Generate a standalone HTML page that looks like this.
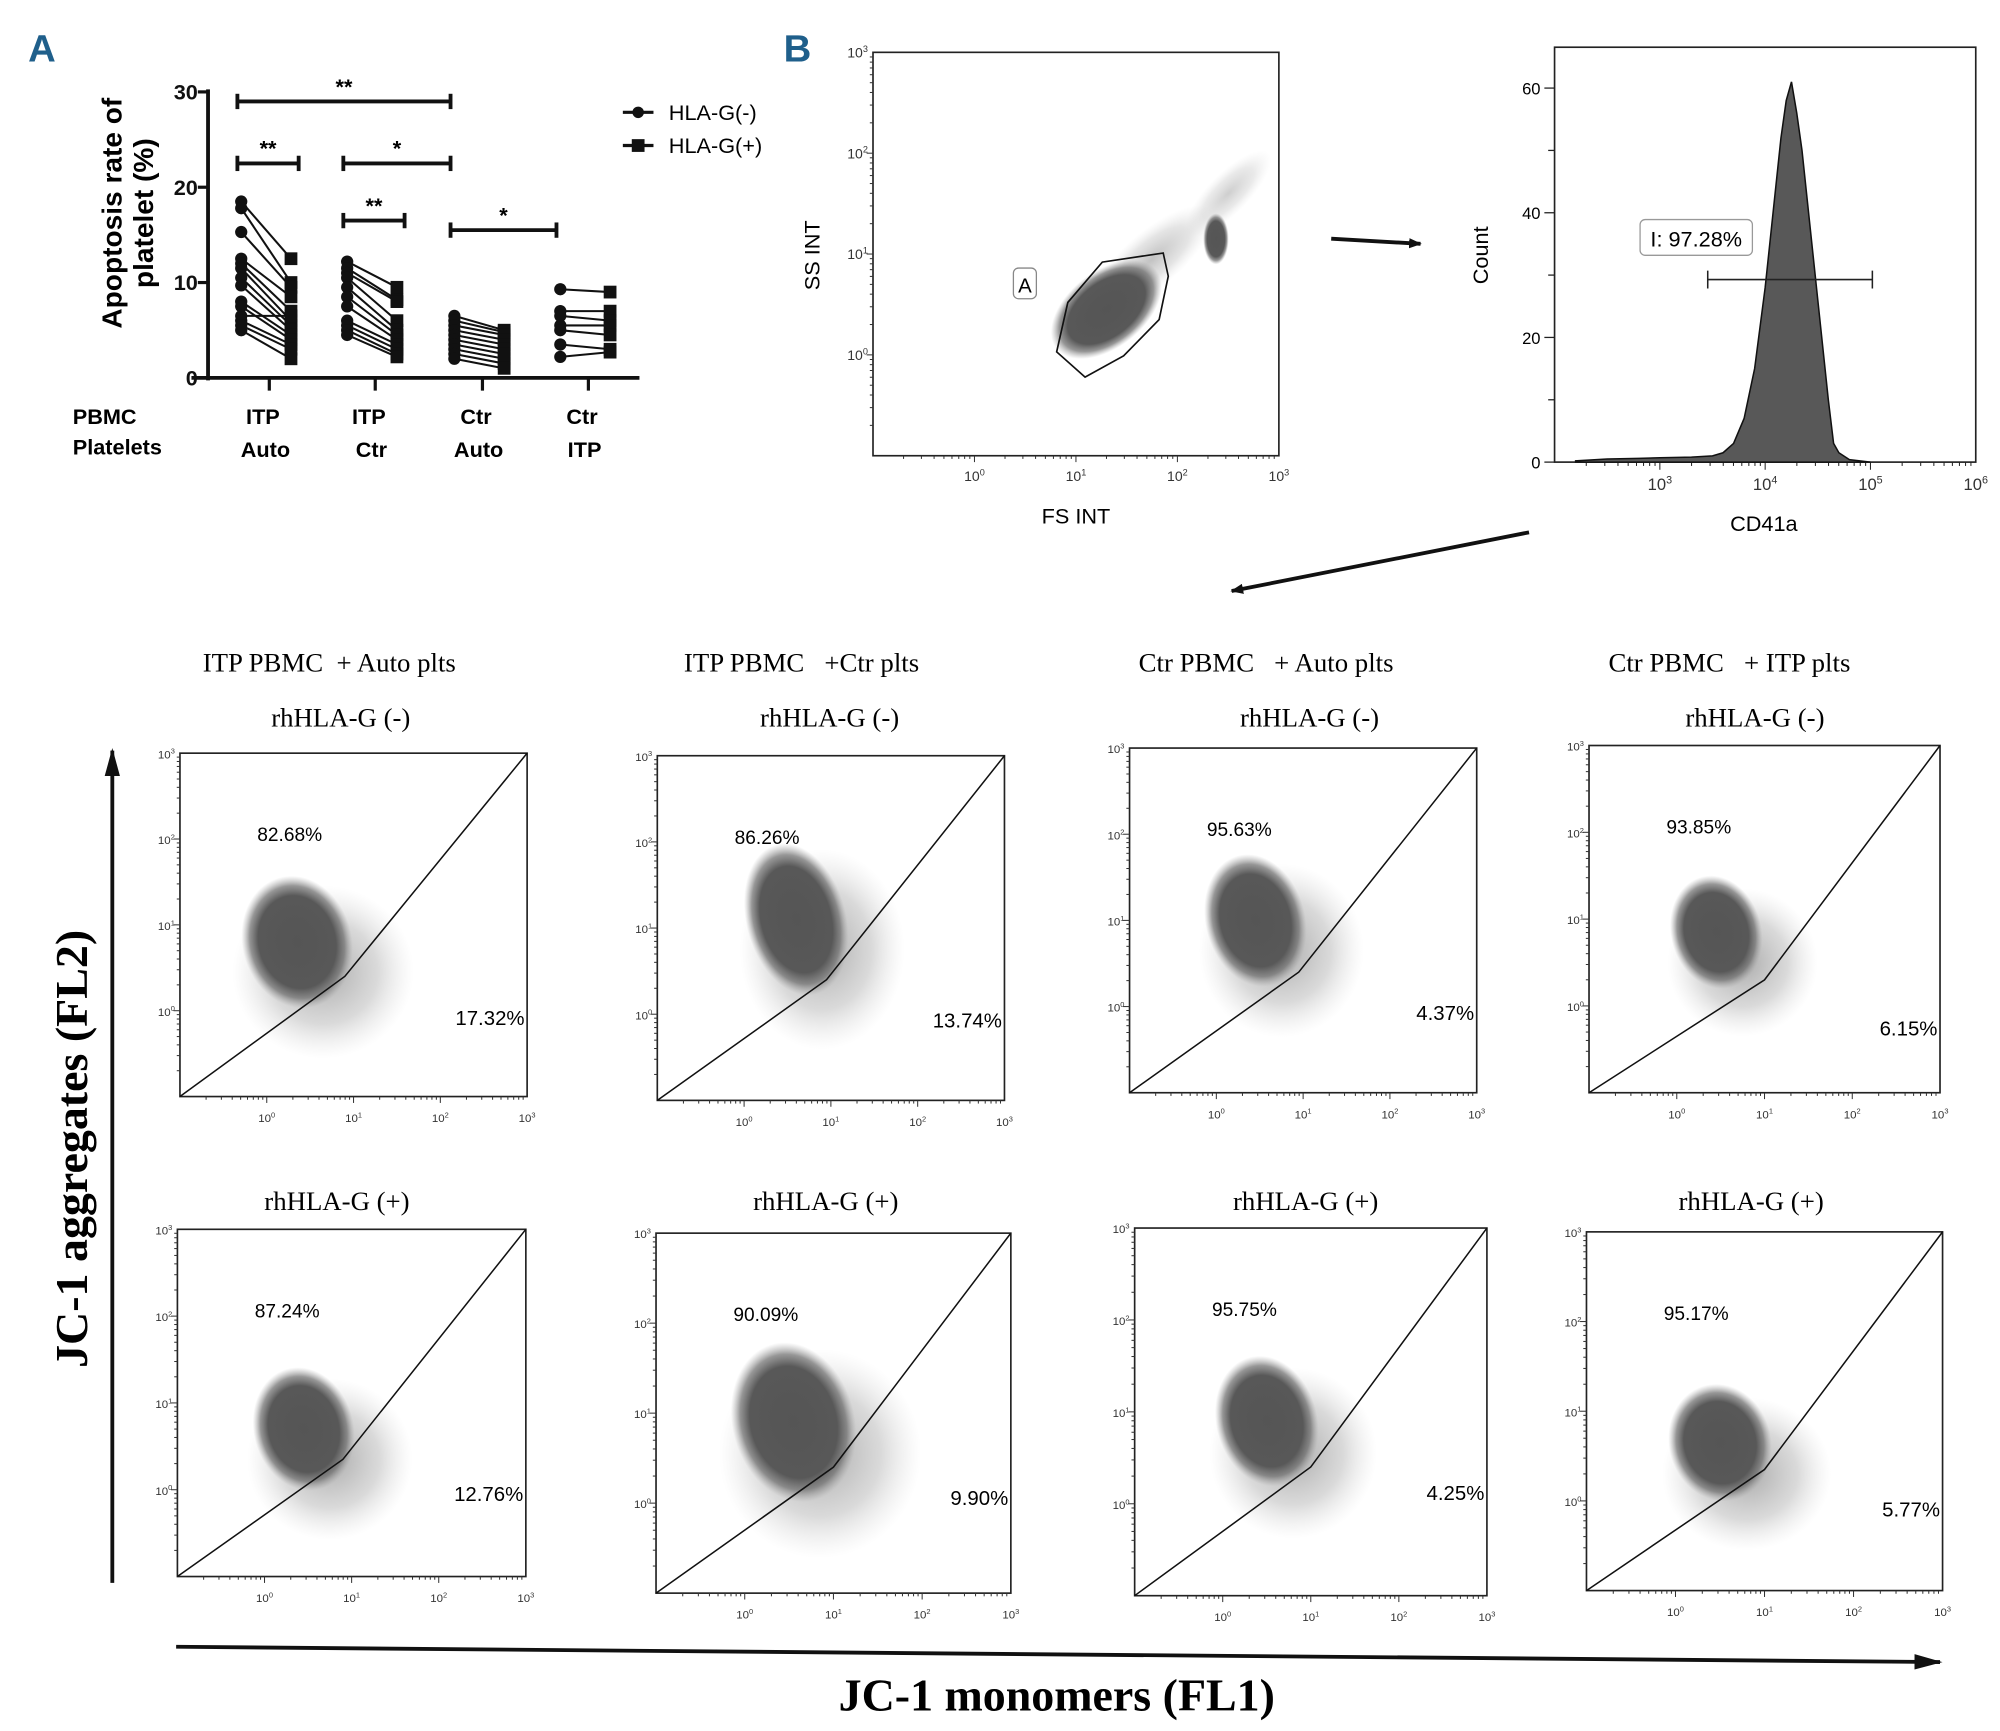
<!DOCTYPE html>
<html><head><meta charset="utf-8">
<style>
html,body{margin:0;padding:0;background:#fff;}
svg{display:block;}
.sans{font-family:"Liberation Sans",sans-serif;}
.serif{font-family:"Liberation Serif",serif;}
</style></head>
<body>
<svg id="fig" width="2000" height="1731" viewBox="0 0 1567 1356" preserveAspectRatio="none" xmlns="http://www.w3.org/2000/svg">
<defs>
<radialGradient id="cloud" cx="50%" cy="50%" r="50%">
<stop offset="0%" stop-color="#555" stop-opacity="1"/>
<stop offset="70%" stop-color="#585858" stop-opacity="1"/>
<stop offset="85%" stop-color="#6a6a6a" stop-opacity="0.7"/>
<stop offset="100%" stop-color="#999" stop-opacity="0"/>
</radialGradient>
<radialGradient id="halo" cx="50%" cy="50%" r="50%">
<stop offset="0%" stop-color="#666" stop-opacity="0.8"/>
<stop offset="60%" stop-color="#888" stop-opacity="0.45"/>
<stop offset="100%" stop-color="#bbb" stop-opacity="0"/>
</radialGradient>
<marker id="ah" markerWidth="10" markerHeight="8" refX="9" refY="4" orient="auto" markerUnits="userSpaceOnUse"><path d="M0,0 L10,4 L0,8 z" fill="#111"/></marker>
<marker id="ah2" markerWidth="22" markerHeight="12" refX="20" refY="6" orient="auto" markerUnits="userSpaceOnUse"><path d="M0,0 L22,6 L0,12 z" fill="#111"/></marker>
</defs>
<g id="root"></g>
</svg>
<script>
// ---------- Panel A data ----------
const groupLabels1 = ["ITP","ITP","Ctr","Ctr"];
const groupLabels2 = ["Auto","Ctr","Auto","ITP"];
const yTicksA = [0,10,20,30];
const itpAutoNeg = [18.5,17.8,15.3,12.5,12,11.5,10.5,9.7,8,7.5,6.5,6,5.5,5];
const itpAutoPos = [12.5,10,9.5,8.5,7,6,5.5,5,4.5,4,6.5,3.5,3,2];
const itpCtrNeg = [12.2,11.5,11,10.5,9.5,8.5,7.5,6,5.5,5,4.5];
const itpCtrPos = [9.5,8.2,8,6,5,4.5,4,3.5,3,2.5,2.2];
const ctrAutoNeg = [6.5,6,5.5,5,4.5,4,3.5,3,2.5,2];
const ctrAutoPos = [5,4.8,4.5,4,3.5,3,2.5,2,1.5,1];
const ctrItpNeg = [9.3,7,6.5,5.5,5,3.5,2.2];
const ctrItpPos = [9,7,6,5.5,4.5,3,2.7];
const sigLabels = ["**","**","*","**","*"];
const sigLevels = [29,22.5,22.5,16.5,15.5];
const sigFrom = [0,0,1,1,2];
const sigTo = [2,0.5,2,1.5,3];

// ---------- Histogram data ----------
const histLog = [2.2,2.5,2.8,3.0,3.3,3.5,3.6,3.7,3.8,3.9,4.0,4.1,4.15,4.2,4.25,4.3,4.35,4.4,4.5,4.6,4.65,4.7,4.8,5.0];
const histCount = [0.2,0.5,0.6,0.7,0.8,1,1.5,3,7,15,28,44,52,58,61,56,50,42,26,10,3,1.5,0.4,0];
const histYTicks = [0,20,40,60];
const histXTicks = [3,4,5,6];

// ---------- Scatter data ----------
const plotTitles = ["ITP PBMC\u00a0\u00a0+ Auto plts","ITP PBMC\u00a0\u00a0\u00a0+Ctr plts","Ctr PBMC\u00a0\u00a0\u00a0+ Auto plts","Ctr PBMC\u00a0\u00a0\u00a0+ ITP plts"];
const upperPct = ["82.68%","86.26%","95.63%","93.85%","87.24%","90.09%","95.75%","95.17%"];
const lowerPct = ["17.32%","13.74%","4.37%","6.15%","12.76%","9.90%","4.25%","5.77%"];
const cloudCx = [0.35,0.6,0.45,0.45,0.45,0.55,0.5,0.5];
const cloudCy = [0.8,1.1,1.0,0.85,0.7,0.9,0.9,0.65];
const cloudSx = [0.55,0.5,0.5,0.45,0.5,0.6,0.5,0.5];
const cloudSy = [0.65,0.75,0.65,0.55,0.6,0.75,0.6,0.55];
const gateKx = [0.9,0.95,0.95,1.0,0.9,1.0,1.0,1.0];
const gateKy = [0.4,0.4,0.4,0.3,0.35,0.4,0.4,0.35];
const decadeTicks = [0,1,2,3];

const SVGNS="http://www.w3.org/2000/svg";
const root=document.getElementById('root');
function mk(tag,attrs,parent){const e=document.createElementNS(SVGNS,tag);for(const k in attrs)e.setAttribute(k,attrs[k]);(parent||root).appendChild(e);return e;}
function txt(s,attrs,parent){const e=mk('text',attrs,parent);e.textContent=s;return e;}
function sup(base,exp,x,y,size,parent,anchor){const t=mk('text',{x:x,y:y,'font-size':size,'text-anchor':anchor||'middle',fill:'#333',class:'sans'},parent);t.appendChild(document.createTextNode(base));const s=document.createElementNS(SVGNS,'tspan');s.setAttribute('font-size',size*0.65);s.setAttribute('dy',-size*0.4);s.textContent=exp;t.appendChild(s);return t;}

let e=txt('A',{x:22,y:48,'font-size':30,'font-weight':'bold',fill:'#1f5f8b',class:'sans'});

e=txt('B',{x:614,y:48,'font-size':30,'font-weight':'bold',fill:'#1f5f8b',class:'sans'});


// ---------- Panel A ----------
const gA=mk('g',{});

const yA=v=>296-v*(224/30);
const gx=[211,294,378,461];
const negX=i=>gx[i]-22, posX=i=>gx[i]+17;
mk('line',{x1:163,y1:yA(30)-2,x2:163,y2:yA(0)+2,stroke:'#111','stroke-width':3},gA);
mk('line',{x1:150,y1:yA(0),x2:501,y2:yA(0),stroke:'#111','stroke-width':3},gA);
yTicksA.forEach(v=>{mk('line',{x1:155,y1:yA(v),x2:163,y2:yA(v),stroke:'#111','stroke-width':2.5},gA);
 const t=txt(String(v),{x:155,y:yA(v)+6,'font-size':17,'font-weight':'bold','text-anchor':'end',class:'sans',fill:'#111'},gA);
 });
gx.forEach((x,i)=>{mk('line',{x1:x,y1:yA(0),x2:x,y2:yA(0)+10,stroke:'#111','stroke-width':2.5},gA);
 let t=txt(groupLabels1[i],{x:x-5,y:332,'font-size':17,'font-weight':'bold','text-anchor':'middle',class:'sans'},gA);
 
 t=txt(groupLabels2[i],{x:x-3,y:358,'font-size':17,'font-weight':'bold','text-anchor':'middle',class:'sans'},gA);
 });
txt('PBMC',{x:57,y:332,'font-size':17,'font-weight':'bold',class:'sans'},gA);
txt('Platelets',{x:57,y:356,'font-size':17,'font-weight':'bold',class:'sans'},gA);
let yt=txt('Apoptosis rate of',{x:0,y:0,'font-size':22,'font-weight':'bold','text-anchor':'middle',class:'sans',transform:'translate(95,167) rotate(-90)'},gA);

txt('platelet (%)',{x:0,y:0,'font-size':22,'font-weight':'bold','text-anchor':'middle',class:'sans',transform:'translate(120,167) rotate(-90)'},gA);
const pairs=[[itpAutoNeg,itpAutoPos],[itpCtrNeg,itpCtrPos],[ctrAutoNeg,ctrAutoPos],[ctrItpNeg,ctrItpPos]];
pairs.forEach((p,i)=>{
 const n=Math.min(p[0].length,p[1].length);
 for(let k=0;k<n;k++){const l=mk('line',{x1:negX(i),y1:yA(p[0][k]),x2:posX(i),y2:yA(p[1][k]),stroke:'#111','stroke-width':1.6},gA);
  }
 p[0].forEach(v=>{const c=mk('circle',{cx:negX(i),cy:yA(v),r:4.8,fill:'#111'},gA);});
 p[1].forEach(v=>{const r=mk('rect',{x:posX(i)-5,y:yA(v)-5,width:10,height:10,fill:'#111'},gA);});
});
const sigX=f=>{const i=Math.floor(f);return (f-i)>0?posX(i)+6:negX(i)-3;};
sigLabels.forEach((s,i)=>{const x1=sigX(sigFrom[i]),x2=sigX(sigTo[i]);const y=yA(sigLevels[i]);
 const g=mk('g',{},gA);
 mk('line',{x1:x1,y1:y,x2:x2,y2:y,stroke:'#111','stroke-width':3},g);
 mk('line',{x1:x1,y1:y-6,x2:x1,y2:y+6,stroke:'#111','stroke-width':3},g);
 mk('line',{x1:x2,y1:y-6,x2:x2,y2:y+6,stroke:'#111','stroke-width':3},g);
 txt(s,{x:(x1+x2)/2,y:y-6,'font-size':17,'font-weight':'bold','text-anchor':'middle',class:'sans'},g);});
const lg=mk('g',{},gA);
mk('line',{x1:488,y1:88,x2:512,y2:88,stroke:'#111','stroke-width':2.5},lg);mk('circle',{cx:500,cy:88,r:4.5,fill:'#111'},lg);
txt('HLA-G(-)',{x:524,y:94,'font-size':17,class:'sans'},lg);
mk('line',{x1:488,y1:114,x2:512,y2:114,stroke:'#111','stroke-width':2.5},lg);mk('rect',{x:495,y:109,width:10,height:10,fill:'#111'},lg);
txt('HLA-G(+)',{x:524,y:120,'font-size':17,class:'sans'},lg);

function logFrame(g,x0,y0,x1,y1,fs){
 mk('rect',{x:x0,y:y0,width:x1-x0,height:y1-y0,fill:'none',stroke:'#222','stroke-width':1.3},g);
 const sx=v=>x0+(v+1)/4*(x1-x0), sy=v=>y1-(v+1)/4*(y1-y0);
 for(let d=-1;d<3;d++)for(let m=1;m<10;m++){const v=d+Math.log10(m);if(v<=-0.98)continue;const L=m==1?5:2.5;
  mk('line',{x1:sx(v),y1:y1,x2:sx(v),y2:y1+L,stroke:'#333','stroke-width':0.8},g);
  mk('line',{x1:x0,y1:sy(v),x2:x0-L,y2:sy(v),stroke:'#333','stroke-width':0.8},g);}
 decadeTicks.forEach(d=>{sup('10',String(d),sx(d),y1+20,fs,g);sup('10',String(d),x0-4,sy(d)+4,fs,g,'end');});
 return [sx,sy];
}

// ---------- FS/SS ----------
const gB1=mk('g',{});
const [fx,fy]=logFrame(gB1,684,41,1002,357,11);
mk('ellipse',{cx:fx(1.75),cy:fy(0.95),rx:60,ry:22,fill:'url(#halo)',opacity:0.5,transform:`rotate(-40 ${fx(1.75)} ${fy(0.95)})`},gB1);
mk('ellipse',{cx:fx(2.5),cy:fy(1.6),rx:45,ry:16,fill:'url(#halo)',opacity:0.4,transform:`rotate(-45 ${fx(2.5)} ${fy(1.6)})`},gB1);
mk('ellipse',{cx:fx(1.3),cy:fy(0.45),rx:50,ry:30,fill:'url(#cloud)',transform:`rotate(-38 ${fx(1.3)} ${fy(0.45)})`},gB1);
mk('ellipse',{cx:fx(2.38),cy:fy(1.15),rx:10,ry:20,fill:'url(#cloud)'},gB1);
const gate=[[0.81,0.03],[0.92,0.52],[1.26,0.92],[1.86,1.01],[1.91,0.78],[1.82,0.35],[1.47,-0.01],[1.09,-0.22]];
mk('polygon',{points:gate.map(p=>fx(p[0])+','+fy(p[1])).join(' '),fill:'none',stroke:'#111','stroke-width':1.3},gB1);
mk('rect',{x:794,y:210,width:18,height:24,rx:4,fill:'#fff',stroke:'#888','stroke-width':1},gB1);
txt('A',{x:803,y:229,'font-size':16,'text-anchor':'middle',class:'sans'},gB1);
txt('SS INT',{x:0,y:0,'font-size':17,'text-anchor':'middle',class:'sans',transform:'translate(642,200) rotate(-90)'},gB1);
txt('FS INT',{x:843,y:410,'font-size':17,'text-anchor':'middle',class:'sans'},gB1);

let ar=mk('line',{x1:1043,y1:187,x2:1113,y2:191,stroke:'#111','stroke-width':3,'marker-end':'url(#ah)'});

ar=mk('line',{x1:1198,y1:417,x2:965,y2:463,stroke:'#111','stroke-width':3,'marker-end':'url(#ah)'});


// ---------- Histogram ----------
const gH=mk('g',{});
const hx0=1218,hx1=1548,hy0=37,hy1=362;
const hX=v=>hx0+(v-2)/4*(hx1-hx0); const hY=c=>hy1-c*(293/60);
mk('rect',{x:hx0,y:hy0,width:hx1-hx0,height:hy1-hy0,fill:'none',stroke:'#222','stroke-width':1.3},gH);
histYTicks.forEach(v=>{mk('line',{x1:hx0-8,y1:hY(v),x2:hx0,y2:hY(v),stroke:'#222','stroke-width':1},gH);
 txt(String(v),{x:hx0-11,y:hY(v)+5,'font-size':13,'text-anchor':'end',class:'sans'},gH);});
[10,30,50].forEach(v=>mk('line',{x1:hx0-5,y1:hY(v),x2:hx0,y2:hY(v),stroke:'#222','stroke-width':1},gH));
histXTicks.forEach(d=>sup('10',String(d),hX(d),hy1+22,13,gH));
for(let d=2;d<6;d++)for(let m=1;m<10;m++){const v=d+Math.log10(m);if(v<=2.1)continue;mk('line',{x1:hX(v),y1:hy1,x2:hX(v),y2:hy1+(m==1?6:3),stroke:'#222','stroke-width':0.8},gH);}
let hp='M'+hX(histLog[0])+','+hY(0);histLog.forEach((v,i)=>hp+=' L'+hX(v)+','+hY(histCount[i]));hp+=' L'+hX(histLog[histLog.length-1])+','+hY(0)+' Z';
const hpath=mk('path',{d:hp,fill:'#585858',stroke:'#111','stroke-width':1.2},gH);
mk('line',{x1:1338,y1:219,x2:1467,y2:219,stroke:'#222','stroke-width':1.2},gH);
mk('line',{x1:1338,y1:212,x2:1338,y2:226,stroke:'#222','stroke-width':1.2},gH);
mk('line',{x1:1467,y1:212,x2:1467,y2:226,stroke:'#222','stroke-width':1.2},gH);
mk('rect',{x:1285,y:172,width:88,height:28,rx:4,fill:'#fff',stroke:'#999','stroke-width':1},gH);
txt('I: 97.28%',{x:1329,y:193,'font-size':17,'text-anchor':'middle',class:'sans'},gH);
txt('Count',{x:0,y:0,'font-size':17,'text-anchor':'middle',class:'sans',transform:'translate(1166,200) rotate(-90)'},gH);
txt('CD41a',{x:1382,y:416,'font-size':17,'text-anchor':'middle',class:'sans'},gH);

// ---------- JC-1 grid ----------
const boxes=[[141,590,413,859],[515,592,787,862],[885,586,1157,856],[1245,584,1520,856],
             [139,963,412,1235],[514,966,792,1248],[889,962,1165,1250],[1243,965,1522,1246]];
const titleX=[258,628,992,1355], subX=[267,650,1026,1375];
titleX.forEach((x,i)=>{const t=txt(plotTitles[i],{x:x,y:526,'font-size':21,'text-anchor':'middle',class:'serif'});
 
 let s=txt('rhHLA-G (-)',{x:subX[i],y:569,'font-size':21,'text-anchor':'middle',class:'serif'});
 s=txt('rhHLA-G (+)',{x:subX[i]-3,y:948,'font-size':21,'text-anchor':'middle',class:'serif'});});
boxes.forEach((b,i)=>{
 const g=mk('g',{});
 const [sx,sy]=logFrame(g,b[0],b[1],b[2],b[3],9);
 const dpx=(b[2]-b[0])/4, dpy=(b[3]-b[1])/4;
 const cx=sx(cloudCx[i]),cy=sy(cloudCy[i]);
 mk('ellipse',{cx:cx+dpx*0.3,cy:cy+dpy*0.35,rx:cloudSx[i]*dpx*1.9,ry:cloudSy[i]*dpy*1.55,fill:'url(#halo)',opacity:0.7},g);
 const c=mk('ellipse',{cx:cx,cy:cy,rx:cloudSx[i]*dpx*1.15,ry:cloudSy[i]*dpy*1.2,fill:'url(#cloud)',transform:`rotate(-15 ${cx} ${cy})`},g);
 
 const gl=mk('polyline',{points:`${b[0]},${b[3]} ${sx(gateKx[i])},${sy(gateKy[i])} ${b[2]},${b[1]}`,fill:'none',stroke:'#111','stroke-width':1.2},g);
 
 let t=txt(upperPct[i],{x:b[0]+86,y:b[1]+69,'font-size':15,'text-anchor':'middle',class:'sans'},g);
 t=txt(lowerPct[i],{x:b[2]-2,y:b[1]+213+(i==3?14:0)+(i==7?10:0),'font-size':16,'text-anchor':'end',class:'sans'},g);
});
ar=mk('line',{x1:88,y1:1240,x2:88,y2:588,stroke:'#111','stroke-width':3,'marker-end':'url(#ah2)'});

ar=mk('line',{x1:138,y1:1290,x2:1520,y2:1302,stroke:'#111','stroke-width':3,'marker-end':'url(#ah2)'});

e=txt('JC-1 aggregates (FL2)',{x:0,y:0,'font-size':36,'font-weight':'bold','text-anchor':'middle',class:'serif',transform:'translate(68,900) rotate(-90)'});

e=txt('JC-1 monomers (FL1)',{x:828,y:1340,'font-size':36,'font-weight':'bold','text-anchor':'middle',class:'serif'});

</script>
</body></html>
